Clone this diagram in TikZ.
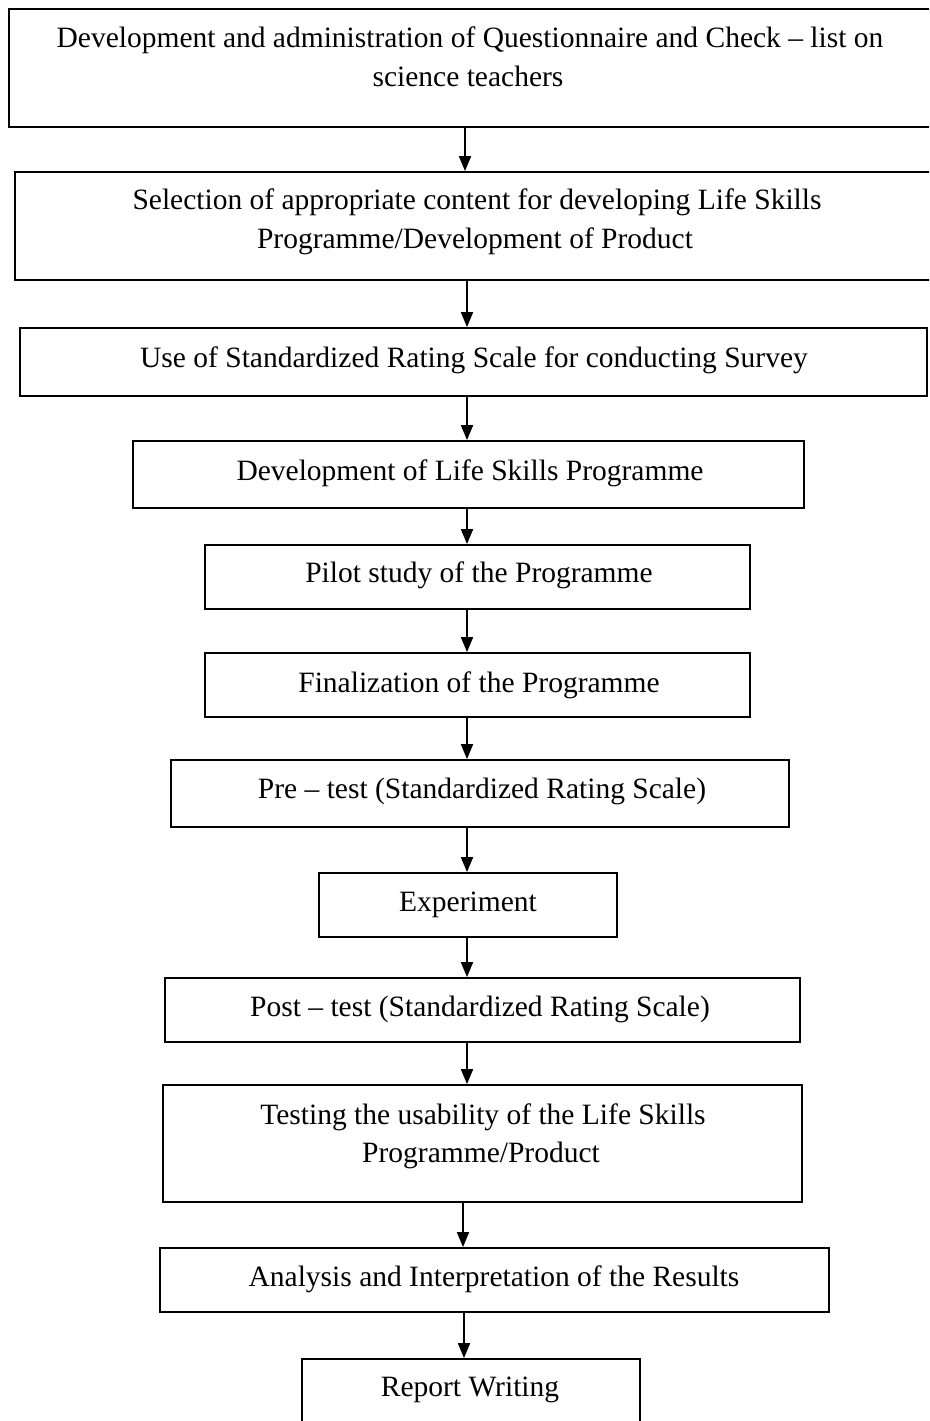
\documentclass[tikz,border=0pt]{standalone}
\usepackage{fontspec}
\setmainfont{Liberation Serif}
\usetikzlibrary{arrows.meta}

\tikzset{
  stepbox/.style={draw=black, line width=1.8pt, rectangle, inner sep=0pt, fill=white},
  steptext/.style={anchor=base, inner sep=0pt, font=\fontsize{29.5}{38.5}\selectfont},
  flow/.style={line width=1.8pt, -{Triangle[length=15pt,width=12pt]}}
}

\begin{document}
\begin{tikzpicture}[x=1pt, y=-1pt]
  \useasboundingbox (0,0) rectangle (929,1421);
  \fill[white] (0,0) rectangle (929,1421);
  \clip (0,0) rectangle (929,1421);

  % process boxes (the first two run off the right edge, the last one off the bottom)
  \node[stepbox, minimum width=951pt, minimum height=118pt] (b1)  at (484.5,68)    {};
  \node[stepbox, minimum width=945pt, minimum height=108pt] (b2)  at (487.5,226)   {};
  \node[stepbox, minimum width=907pt, minimum height=68pt]  (b3)  at (473.5,362)   {};
  \node[stepbox, minimum width=671pt, minimum height=67pt]  (b4)  at (468.5,474.5) {};
  \node[stepbox, minimum width=545pt, minimum height=64pt]  (b5)  at (477.5,577)   {};
  \node[stepbox, minimum width=545pt, minimum height=64pt]  (b6)  at (477.5,685)   {};
  \node[stepbox, minimum width=618pt, minimum height=67pt]  (b7)  at (480,793.5)   {};
  \node[stepbox, minimum width=298pt, minimum height=64pt]  (b8)  at (468,905)     {};
  \node[stepbox, minimum width=635pt, minimum height=64pt]  (b9)  at (482.5,1010)  {};
  \node[stepbox, minimum width=639pt, minimum height=117pt] (b10) at (482.5,1143.5){};
  \node[stepbox, minimum width=669pt, minimum height=64pt]  (b11) at (494.5,1280)  {};
  \node[stepbox, minimum width=338pt, minimum height=91pt]  (b12) at (471,1404.5)  {};

  % box texts, one node per printed line
  \node[steptext] (t1a) at (470,48)     {Development and administration of Questionnaire and Check -- list on};
  \node[steptext] (t1b) at (468,86.5)   {science teachers};
  \node[steptext] (t2a) at (477,209)    {Selection of appropriate content for developing Life Skills};
  \node[steptext] (t2b) at (475,248)    {Programme/Development of Product};
  \node[steptext] (t3)  at (474,367.5)  {Use of Standardized Rating Scale for conducting Survey};
  \node[steptext] (t4)  at (470,480)    {Development of Life Skills Programme};
  \node[steptext] (t5)  at (479,582.7)  {Pilot study of the Programme};
  \node[steptext] (t6)  at (479,692)    {Finalization of the Programme};
  \node[steptext] (t7)  at (482,798)    {Pre -- test (Standardized Rating Scale)};
  \node[steptext] (t8)  at (468,911)    {Experiment};
  \node[steptext] (t9)  at (480,1016.5) {Post -- test (Standardized Rating Scale)};
  \node[steptext] (t10a) at (483,1124.5){Testing the usability of the Life Skills};
  \node[steptext] (t10b) at (481,1162)  {Programme/Product};
  \node[steptext] (t11) at (494,1286.5) {Analysis and Interpretation of the Results};
  \node[steptext] (t12) at (470,1396.5) {Report Writing};

  % connectors
  \draw[flow] (465,0 |- b1.south)  -- (465,0 |- b2.north);
  \draw[flow] (467,0 |- b2.south)  -- (467,0 |- b3.north);
  \draw[flow] (467,0 |- b3.south)  -- (467,0 |- b4.north);
  \draw[flow] (467,0 |- b4.south)  -- (467,0 |- b5.north);
  \draw[flow] (467,0 |- b5.south)  -- (467,0 |- b6.north);
  \draw[flow] (467,0 |- b6.south)  -- (467,0 |- b7.north);
  \draw[flow] (467,0 |- b7.south)  -- (467,0 |- b8.north);
  \draw[flow] (467,0 |- b8.south)  -- (467,0 |- b9.north);
  \draw[flow] (467,0 |- b9.south)  -- (467,0 |- b10.north);
  \draw[flow] (463,0 |- b10.south) -- (463,0 |- b11.north);
  \draw[flow] (464,0 |- b11.south) -- (464,0 |- b12.north);
\end{tikzpicture}
\end{document}
